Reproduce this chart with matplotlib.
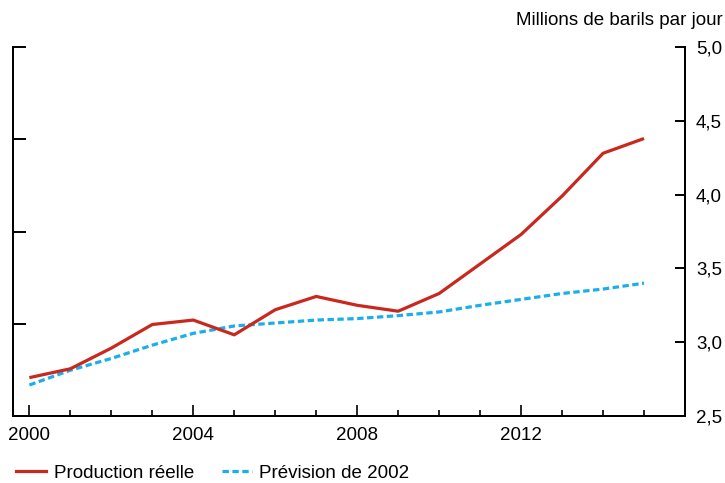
import matplotlib
matplotlib.use("Agg")
import matplotlib.pyplot as plt
from matplotlib.lines import Line2D

years = list(range(2000, 2016))
production = [2.76, 2.82, 2.96, 3.12, 3.15, 3.05, 3.22, 3.31, 3.25, 3.21, 3.33, 3.53, 3.73, 3.99, 4.28, 4.38]
prevision = [2.71, 2.81, 2.89, 2.98, 3.06, 3.11, 3.13, 3.15, 3.16, 3.18, 3.205, 3.25, 3.29, 3.33, 3.36, 3.40]
right_ticks = [2.5, 3.0, 3.5, 4.0, 4.5, 5.0]
right_labels = ["2,5", "3,0", "3,5", "4,0", "4,5", "5,0"]
x_major = [2000, 2004, 2008, 2012]
x_labels = ["2000", "2004", "2008", "2012"]
series_names = ["Production réelle", "Prévision de 2002"]
unit_label = "Millions de barils par jour"

RED = "#C8281E"
BLUE = "#1AAEEB"
FS = 13.5

plt.rcParams['font.family'] = ['Liberation Sans', 'DejaVu Sans']

fig = plt.figure(figsize=(7.25, 4.83), dpi=100)
ax = fig.add_axes([13/725, 67/483, 672/725, 369/483])
ax2 = ax.twinx()

ax2.plot(years, production, color=RED, lw=2.3, solid_capstyle='butt', zorder=3)
ax2.plot(years, prevision, color=BLUE, lw=2.3, linestyle=(0, (2, 1.1)), zorder=2)

ax.set_xlim(1999.6, 2016.0)
ax.set_ylim(0, 4)
ax2.set_ylim(2.5, 5.0)

for a in (ax, ax2):
    a.spines['top'].set_visible(False)
    for s in a.spines.values():
        s.set_linewidth(1.4)

ax.set_yticks([0, 1, 2, 3, 4])
ax.set_yticklabels([])
ax.tick_params(axis='y', direction='in', length=9, width=1.4, left=True, labelleft=False)

ax.set_xticks(x_major)
ax.set_xticklabels(x_labels)
ax.set_xticks(years, minor=True)
ax.tick_params(axis='x', which='major', direction='in', length=8, width=1.2, labelsize=FS, pad=8)
ax.tick_params(axis='x', which='minor', direction='in', length=4.5, width=1.2)

ax2.set_yticks(right_ticks)
ax2.set_yticklabels(right_labels)
ax2.tick_params(axis='y', direction='in', length=7.5, width=1.4, labelsize=FS, pad=8)

fig.text(0.997, 0.957, unit_label, ha='right', va='center', fontsize=FS)

handles = [Line2D([], [], color=RED, lw=2.3),
           Line2D([], [], color=BLUE, lw=2.3, linestyle=(0, (2, 1.1)))]
fig.legend(handles, series_names, loc='lower left', bbox_to_anchor=(0.004, -0.025),
           ncol=2, frameon=False, fontsize=FS, handlelength=1.6, handletextpad=0.4,
           columnspacing=1.5, borderaxespad=0.3)

fig.savefig("out.png", dpi=100)
